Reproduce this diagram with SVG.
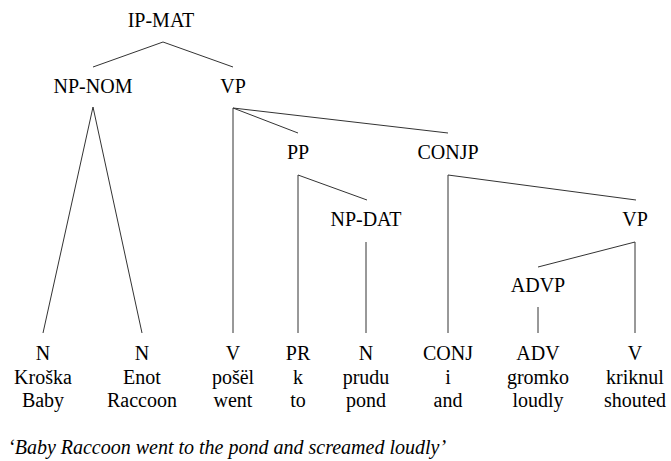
<svg xmlns="http://www.w3.org/2000/svg" width="671" height="461" viewBox="0 0 671 461">
  <rect width="671" height="461" fill="#fff"/>

  <!-- tree edges -->
  <g id="connectors" stroke="#333" stroke-width="1" fill="none">
    <line x1="163" y1="42" x2="93" y2="67"/>
    <line x1="163" y1="42" x2="233" y2="67"/>
    <line x1="93" y1="107" x2="43" y2="333"/>
    <line x1="93" y1="107" x2="142" y2="333"/>
    <line x1="233" y1="108" x2="233" y2="333"/>
    <line x1="233" y1="108" x2="298" y2="133"/>
    <line x1="233" y1="108" x2="448" y2="133"/>
    <line x1="298" y1="175" x2="298" y2="333"/>
    <line x1="298" y1="175" x2="367" y2="200"/>
    <line x1="366" y1="242" x2="366" y2="333"/>
    <line x1="448" y1="175" x2="448" y2="333"/>
    <line x1="448" y1="175" x2="636" y2="200"/>
    <line x1="635" y1="242" x2="635" y2="333"/>
    <line x1="635" y1="242" x2="538" y2="267"/>
    <line x1="538" y1="307" x2="538" y2="333"/>
  </g>

  <g font-family="Liberation Serif" font-size="20" fill="#000" text-anchor="middle">
    <!-- phrasal nodes -->
    <g id="ip-mat"><text font-family="Liberation Serif" x="161" y="27">IP-MAT</text></g>
    <g id="np-nom"><text font-family="Liberation Serif" x="93" y="93">NP-NOM</text></g>
    <g id="vp"><text font-family="Liberation Serif" x="233" y="93">VP</text></g>
    <g id="pp"><text font-family="Liberation Serif" x="298" y="159">PP</text></g>
    <g id="conjp"><text font-family="Liberation Serif" x="448" y="159">CONJP</text></g>
    <g id="np-dat"><text font-family="Liberation Serif" x="366" y="226">NP-DAT</text></g>
    <g id="vp2"><text font-family="Liberation Serif" x="635" y="226">VP</text></g>
    <g id="advp"><text font-family="Liberation Serif" x="538" y="292">ADVP</text></g>

    <!-- terminals: tag, word, gloss -->
    <g id="leaf-n1"><text font-family="Liberation Serif" x="43" y="360">N</text><text font-family="Liberation Serif" x="43" y="384">Kro&#353;ka</text><text font-family="Liberation Serif" x="43" y="407">Baby</text></g>
    <g id="leaf-n2"><text font-family="Liberation Serif" x="142" y="360">N</text><text font-family="Liberation Serif" x="142" y="384">Enot</text><text font-family="Liberation Serif" x="142" y="407">Raccoon</text></g>
    <g id="leaf-v1"><text font-family="Liberation Serif" x="233" y="360">V</text><text font-family="Liberation Serif" x="233" y="384">po&#353;&#235;l</text><text font-family="Liberation Serif" x="233" y="407">went</text></g>
    <g id="leaf-pr"><text font-family="Liberation Serif" x="298" y="360">PR</text><text font-family="Liberation Serif" x="298" y="384">k</text><text font-family="Liberation Serif" x="298" y="407">to</text></g>
    <g id="leaf-n3"><text font-family="Liberation Serif" x="366" y="360">N</text><text font-family="Liberation Serif" x="366" y="384">prudu</text><text font-family="Liberation Serif" x="366" y="407">pond</text></g>
    <g id="leaf-conj"><text font-family="Liberation Serif" x="448" y="360">CONJ</text><text font-family="Liberation Serif" x="448" y="384">i</text><text font-family="Liberation Serif" x="448" y="407">and</text></g>
    <g id="leaf-adv"><text font-family="Liberation Serif" x="538" y="360">ADV</text><text font-family="Liberation Serif" x="538" y="384">gromko</text><text font-family="Liberation Serif" x="538" y="407">loudly</text></g>
    <g id="leaf-v2"><text font-family="Liberation Serif" x="635" y="360">V</text><text font-family="Liberation Serif" x="635" y="384">kriknul</text><text font-family="Liberation Serif" x="635" y="407">shouted</text></g>

    <!-- free translation -->
    <text font-family="Liberation Serif" font-style="italic" text-anchor="start" x="8" y="454">&#8216;Baby Raccoon went to the pond and screamed loudly&#8217;</text>
  </g>
</svg>
